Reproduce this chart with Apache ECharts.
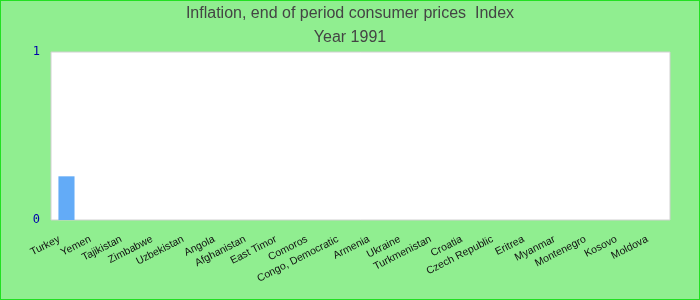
<!DOCTYPE html>
<html><head><meta charset="utf-8">
<script src="https://cdn.jsdelivr.net/npm/echarts@6/dist/echarts.min.js"></script>
<style>html,body{margin:0;padding:0;background:#90ee90}#c{width:700px;height:300px;box-sizing:border-box;border:1px solid #22e022}</style>
</head><body><div id="c"></div>
<script>
var titleText = 'Inflation, end of period consumer prices  Index';
var subtitleText = 'Year 1991';
var categories = ['Turkey','Yemen','Tajikistan','Zimbabwe','Uzbekistan','Angola','Afghanistan','East Timor','Comoros','Congo, Democratic','Armenia','Ukraine','Turkmenistan','Croatia','Czech Republic','Eritrea','Myanmar','Montenegro','Kosovo','Moldova'];
var values = [0.26,null,null,null,null,null,null,null,null,null,null,null,null,null,null,null,null,null,null,null];
var yTicks = [0, 1];
var chart = echarts.init(document.getElementById('c'), null, {renderer:'canvas'});
chart.setOption({
  backgroundColor:'#90ee90',
  animation:false,
  title:[
    {text:titleText,left:'center',top:5,padding:0,textStyle:{fontFamily:'Liberation Sans, Arial',fontSize:16,fontWeight:'normal',color:'#444'}},
    {text:subtitleText,left:'center',top:29,padding:0,textStyle:{fontFamily:'Liberation Sans, Arial',fontSize:16,fontWeight:'normal',color:'#444'}}
  ],
  grid:{left:50,right:29,top:51,bottom:79,show:true,backgroundColor:'#fff',borderColor:'#d0d0d0',borderWidth:1,containLabel:false},
  xAxis:{type:'category',data:categories,axisLine:{show:false},axisTick:{show:false},
    axisLabel:{interval:0,rotate:27,color:'#111',fontFamily:'Liberation Sans, Arial',fontSize:10.5,margin:15,padding:[0,8,0,0]}},
  yAxis:{type:'value',min:yTicks[0],max:yTicks[yTicks.length-1],interval:1,splitLine:{show:false},axisLine:{show:false},axisTick:{show:false},
    axisLabel:{color:'#0000aa',fontFamily:'DejaVu Sans Mono, monospace',fontSize:12,margin:11}},
  series:[{type:'bar',data:values,barWidth:'52%',itemStyle:{color:'#63abf7'}}]
});
</script></body></html>
